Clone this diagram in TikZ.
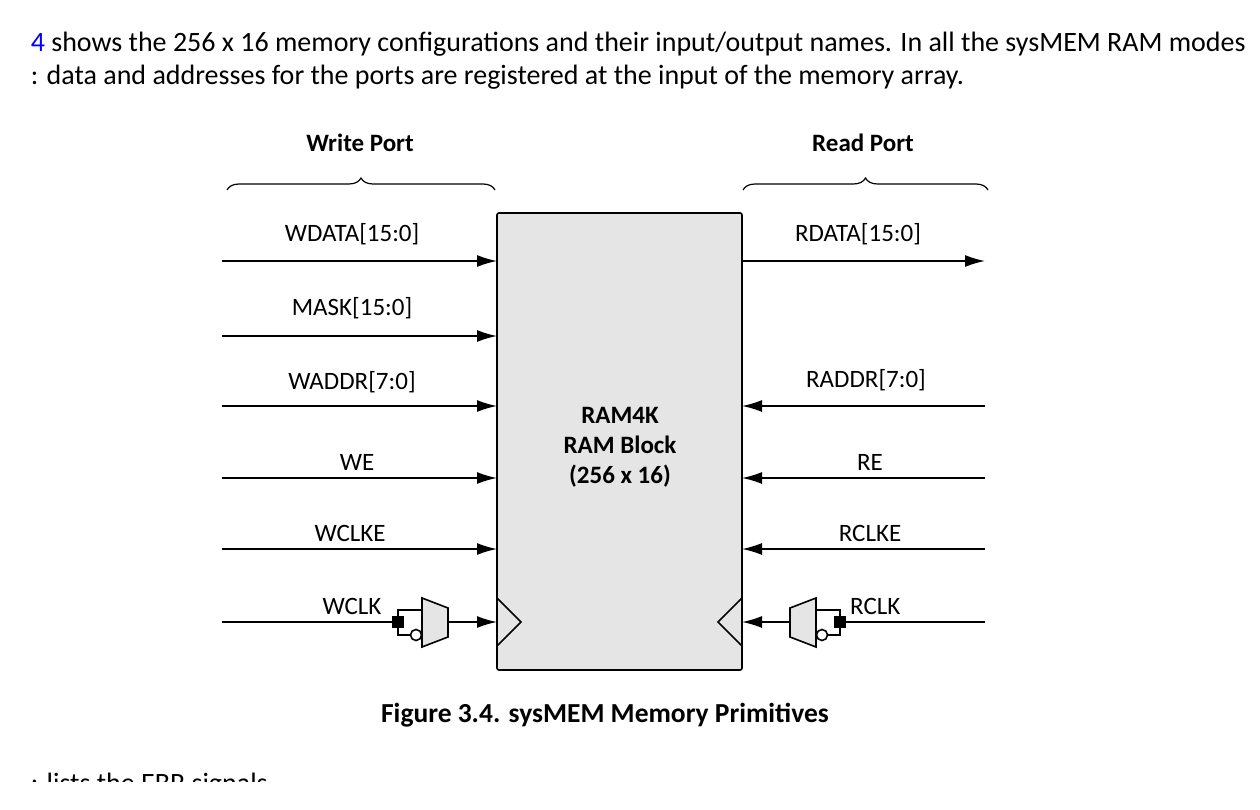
\documentclass[tikz,border=0pt]{standalone}
\usepackage{fontspec}
\setmainfont{Carlito}
\usetikzlibrary{decorations.pathreplacing, arrows.meta}
\begin{document}
\begin{tikzpicture}[
  x = 1pt, y = -1pt,
  sig/.style = {
    font = \fontsize{25}{30}\selectfont,
    anchor = base,
  },
  every path/.style = {
    line width = 1.6pt
  },
  arr/.style = {
    -{Latex[length = 20pt, width = 12pt]}
  },
  port/.style = {
    font = \bfseries\fontsize{25}{30}\selectfont,
    anchor = base,
  },
  body/.style = {
    font = \fontsize{28}{34}\selectfont,
    anchor = base west,
    inner sep = 0pt,
  }
]
  \useasboundingbox (0, 0) rectangle (1260, 810);
  \fill[white] (0, 0) rectangle (1260, 810);

  % running text
  \node[body] (t1) at (30, 52) {\textcolor{blue}{4} shows the 256 x 16 memory configurations and their input/output names. In all the sysMEM RAM modes};
  \node[body] (t2) at (30, 85) {: data and addresses for the ports are registered at the input of the memory array.};
  \node[body] (t3) at (30, 792) {: lists the EBR signals};
  \fill[white] (0, 782) rectangle (1260, 810);

  % ports
  \node[port] (wp) at (360, 152) {Write Port};
  \node[port] (rp) at (863, 152) {Read Port};
  \draw[line width = 1.2pt, decorate, decoration = {brace, amplitude = 12pt}]
    (227, 190) -- (495, 190);
  \draw[line width = 1.2pt, decorate, decoration = {brace, amplitude = 12pt}]
    (743, 190) -- (988, 190);

  % block
  \draw[fill = gray!20, rounded corners = 2pt] (497, 213) rectangle (742, 670);
  \node (blk) at (620, 447) [font = \bfseries\fontsize{25}{30}\selectfont, align = center]
    {RAM4K\\RAM Block\\(256 x 16)};
  \draw (497, 598) -- (521, 622) -- (497, 646);
  \draw (742, 598) -- (718, 622) -- (742, 646);

  % write side
  \foreach \y/\txt/\lx/\dy in {261/WDATA[15:0]/352/19, 336/MASK[15:0]/352/21,
                           406/WADDR[7:0]/352/17, 478/WE/357/8, 549/WCLKE/350/8} {
    \coordinate (a) at (222, \y);
    \coordinate (b) at (497, \y);
    \draw[arr] (a) -- (b);
    \node[sig] at (\lx, \y - \dy) {\txt};
  }
  % read side
  \coordinate (rd1) at (742, 261);
  \coordinate (rd2) at (985, 261);
  \draw[arr] (rd1) -- (rd2);
  \node[sig] at (858, 242) {RDATA[15:0]};
  \foreach \y/\txt/\lx/\dy in {406/RADDR[7:0]/866/19, 478/RE/870/8, 549/RCLKE/870/8} {
    \coordinate (a) at (985, \y);
    \coordinate (b) at (742, \y);
    \draw[arr] (a) -- (b);
    \node[sig] at (\lx, \y - \dy) {\txt};
  }

  % write clock
  \node[sig] (wclk) at (352, 614) {WCLK};
  \draw[fill = gray!20] (422, 598) -- (448, 608) -- (448, 637) -- (422, 647) -- cycle;
  \node[draw, fill = black, inner sep = 0pt, minimum size = 10pt] (wsq) at (398, 622) {};
  \node[draw, circle, fill = white, inner sep = 0pt, minimum size = 11pt] (wbub) at (416, 635) {};
  \coordinate (win) at (222, 622);
  \draw (win) -- (wsq.west);
  \draw (wsq.north) |- (422, 610);
  \draw (wsq.south) |- (wbub.west);
  \coordinate (wout) at (448, 622);
  \coordinate (wck) at (497, 622);
  \draw[arr] (wout) -- (wck);

  % read clock
  \node[sig, anchor = base west] (rclk) at (846, 614) {RCLK};
  \draw[fill = gray!20] (816, 598) -- (790, 608) -- (790, 637) -- (816, 647) -- cycle;
  \node[draw, fill = black, inner sep = 0pt, minimum size = 10pt] (rsq) at (840, 622) {};
  \node[draw, circle, fill = white, inner sep = 0pt, minimum size = 11pt] (rbub) at (822, 635) {};
  \coordinate (rin) at (985, 622);
  \draw (rin) -- (rsq.east);
  \draw (rsq.north) |- (816, 610);
  \draw (rsq.south) |- (rbub.east);
  \coordinate (rout) at (790, 622);
  \coordinate (rck) at (742, 622);
  \draw[arr] (rout) -- (rck);

  % caption
  \node[font = \bfseries\fontsize{27.5}{33}\selectfont, anchor = base] (cap) at (605, 722)
    {Figure 3.4. sysMEM Memory Primitives};
\end{tikzpicture}
\end{document}
